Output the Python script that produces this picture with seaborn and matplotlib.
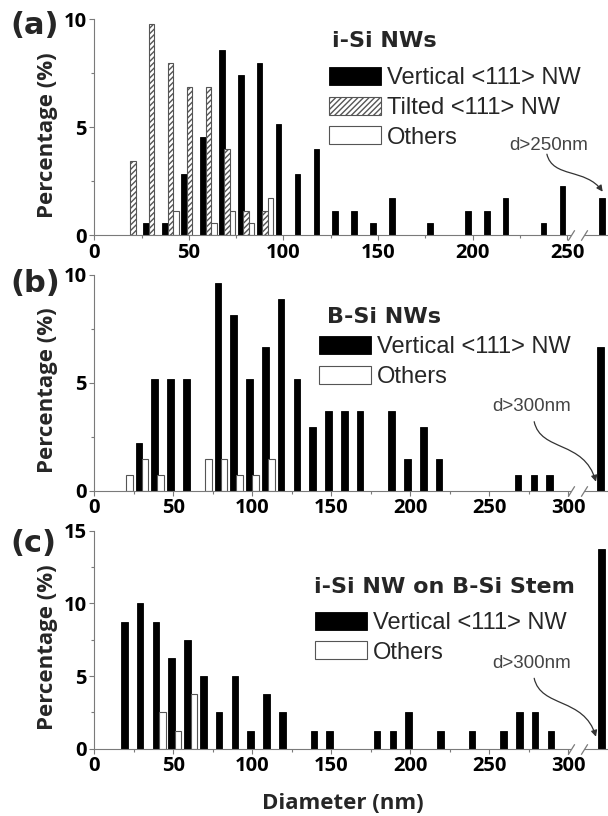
import matplotlib
matplotlib.use("Agg")
import matplotlib.pyplot as plt
from matplotlib.path import Path
from matplotlib.patches import FancyArrowPatch
from matplotlib.font_manager import FontProperties
from matplotlib.ticker import MultipleLocator
import seaborn as sns

# ---------------- data: diameter bins (nm) and percentages (%) ----------------
# (a) i-Si NWs
a_vert_d = [30, 40, 50, 60, 70, 80, 90, 100, 110, 120, 130, 140, 150, 160,
            180, 200, 210, 220, 240, 250, 271]
a_vert_pct = [0.57, 0.57, 2.86, 4.57, 8.57, 7.43, 8.00, 5.14, 2.86, 4.00, 1.14,
              1.14, 0.57, 1.71, 0.57, 1.14, 1.14, 1.71, 0.57, 2.29, 1.71]
a_tilt_d = [20, 30, 40, 50, 60, 70, 80, 90]
a_tilt_pct = [3.43, 9.80, 8.00, 6.86, 6.86, 4.00, 1.14, 1.14]
a_other_d = [40, 60, 70, 80, 90]
a_other_pct = [1.14, 0.57, 1.14, 0.57, 1.71]

# (b) B-Si NWs
b_vert_d = [30, 40, 50, 60, 80, 90, 100, 110, 120, 130, 140, 150, 160, 170,
            190, 200, 210, 220, 270, 280, 290, 322]
b_vert_pct = [2.22, 5.19, 5.19, 5.19, 9.63, 8.15, 5.19, 6.67, 8.89, 5.19, 2.96,
              3.70, 3.70, 3.70, 3.70, 1.48, 2.96, 1.48, 0.74, 0.74, 0.74, 6.67]
b_other_d = [20, 30, 40, 70, 80, 90, 100, 110]
b_other_pct = [0.74, 1.48, 0.74, 1.48, 1.48, 0.74, 0.74, 1.48]

# (c) i-Si NW on B-Si stem
c_vert_d = [20, 30, 40, 50, 60, 70, 80, 90, 100, 110, 120, 140, 150, 180,
            190, 200, 220, 240, 260, 270, 280, 290, 322]
c_vert_pct = [8.75, 10.0, 8.75, 6.25, 7.5, 5.0, 2.5, 5.0, 1.25, 3.75, 2.5, 1.25,
              1.25, 1.25, 1.25, 2.5, 1.25, 1.25, 1.25, 2.5, 2.5, 1.25, 13.75]
c_other_d = [40, 50, 60]
c_other_pct = [2.5, 1.25, 3.75]

legend_labels = ["Vertical <111> NW", "Tilted <111> NW", "Others"]
panel_titles = ["i-Si NWs", "B-Si NWs", "i-Si NW on B-Si Stem"]
panel_tags = ["(a)", "(b)", "(c)"]
overflow_notes = ["d>250nm", "d>300nm", "d>300nm"]
xticks_a = [0, 50, 100, 150, 200, 250]
xticks_bc = [0, 50, 100, 150, 200, 250, 300]
yticks_ab = [0, 5, 10]
yticks_c = [0, 5, 10, 15]

# ---------------- styling ----------------
sns.set_theme(style="ticks")
plt.rcParams["hatch.linewidth"] = 1.0
AXIS_GREY = "#7a7a7a"
EDGE_GREY = "#555555"
BOLD_FAMILY = ["Open Sans", "DejaVu Sans"]

STYLE_VERT = dict(color="black", edgecolor="black", linewidth=0.6)
STYLE_TILT = dict(color="white", edgecolor=EDGE_GREY, linewidth=0.8, hatch="//////")
STYLE_OTHER = dict(color="white", edgecolor=EDGE_GREY, linewidth=0.8)

fig = plt.figure(figsize=(6.08, 8.16), dpi=100)
W, H = 608.0, 816.0
AX_L, AX_R = 94.3, 607.0


def make_axes(top_px, bottom_px):
    return fig.add_axes([AX_L / W, 1 - bottom_px / H,
                         (AX_R - AX_L) / W, (bottom_px - top_px) / H])


def bars(ax, d, pct, offset, width, label, style):
    x = [v + offset for v in d]
    sns.barplot(x=x, y=pct, native_scale=True, orient="x", width=width / 10.0,
                errorbar=None, saturation=1, label=label, ax=ax, **style)


def style_axes(ax, xmax, xticks, yticks, ymax):
    ax.set_xlim(0, xmax)
    ax.set_ylim(0, ymax)
    for s in ("top", "right"):
        ax.spines[s].set_visible(False)
    for s in ("left", "bottom"):
        ax.spines[s].set_color(AXIS_GREY)
        ax.spines[s].set_linewidth(0.8)
    ax.set_xticks(xticks, labels=[str(t) for t in xticks], fontsize=14.5,
                  fontweight="bold", family=BOLD_FAMILY)
    ax.set_yticks(yticks, labels=[str(t) for t in yticks], fontsize=14.5,
                  fontweight="bold", family=BOLD_FAMILY)
    ax.xaxis.set_minor_locator(MultipleLocator(25))
    ax.yaxis.set_minor_locator(MultipleLocator(2.5))
    ax.tick_params(which="major", direction="out", length=3.5, width=0.8,
                   color=AXIS_GREY, labelcolor="black")
    ax.tick_params(which="minor", direction="out", length=2.5, width=0.8,
                   color=AXIS_GREY)
    ax.tick_params(axis="x", which="major", pad=2)
    ax.tick_params(axis="y", which="major", pad=2)
    ax.set_ylabel("Percentage (%)", fontsize=16, fontweight="bold",
                  family=BOLD_FAMILY)
    ax.yaxis.set_label_coords(-0.07, 0.465)
    ax.patch.set_alpha(0)


def axis_break(ax, x0, x1):
    ax.plot([x0, x1], [0, 0], color="white", lw=3, solid_capstyle="butt",
            clip_on=False, zorder=3)
    ax.plot([x0, x1], [0, 0], ls="none", marker=[(-1, -1.6), (1, 1.6)], ms=7.5,
            mec=AXIS_GREY, mew=0.9, clip_on=False, zorder=4)


def header(ax, title, tx, ty, lx, ly, labels):
    ax.text(tx, ty, title, transform=ax.transAxes, ha="left", va="baseline",
            fontsize=16, fontweight="bold", family="DejaVu Sans")
    ax.legend(handles=ax.containers, labels=labels, loc="upper left",
              bbox_to_anchor=(lx, ly), bbox_transform=ax.transAxes,
              frameon=False, borderpad=0, borderaxespad=0,
              handlelength=2.2, handleheight=0.8, handletextpad=0.25,
              labelspacing=0.32,
              prop=FontProperties(family="Liberation Sans", size=17))


def overflow_arrow(ax, note, text_xy, verts):
    ax.text(text_xy[0], text_xy[1], note, transform=ax.transAxes, ha="center",
            va="center", fontsize=13.5, family="Liberation Sans", color="#444444")
    path = Path(verts, [Path.MOVETO, Path.CURVE4, Path.CURVE4, Path.CURVE4])
    arr = FancyArrowPatch(path=path, arrowstyle="-|>", mutation_scale=9,
                          color="#333333", lw=0.9, transform=ax.transAxes,
                          clip_on=False)
    ax.add_patch(arr)


def panel_tag(tag, y_px):
    fig.text(10 / W, 1 - y_px / H, tag, ha="left", va="center", fontsize=22,
             fontweight="bold", family="DejaVu Sans")


# ---------------- (a) ----------------
ax_a = make_axes(19.3, 235.3)
bars(ax_a, a_vert_d, a_vert_pct, -2.6, 3.0, legend_labels[0], STYLE_VERT)
bars(ax_a, a_tilt_d, a_tilt_pct, 0.3, 3.0, legend_labels[1], STYLE_TILT)
bars(ax_a, a_other_d, a_other_pct, 3.1, 3.0, legend_labels[2], STYLE_OTHER)
style_axes(ax_a, 271, xticks_a, yticks_ab, 10)
axis_break(ax_a, 252, 259)
header(ax_a, panel_titles[0], 0.464, 0.872, 0.4587, 0.78, legend_labels)
overflow_arrow(ax_a, overflow_notes[0], (0.887, 0.418),
               [(0.8828, 0.3755), (0.894, 0.2639), (0.9588, 0.3116), (0.9916, 0.2019)])
panel_tag(panel_tags[0], 26)

# ---------------- (b) ----------------
ax_b = make_axes(275.0, 490.7)
bars(ax_b, b_vert_d, b_vert_pct, -1.8, 4.2, legend_labels[0], STYLE_VERT)
bars(ax_b, b_other_d, b_other_pct, 2.1, 4.2, legend_labels[2], STYLE_OTHER)
style_axes(ax_b, 324.5, xticks_bc, yticks_ab, 10)
axis_break(ax_b, 302, 310)
header(ax_b, panel_titles[1], 0.454, 0.776, 0.4378, 0.717,
       [legend_labels[0], legend_labels[2]])
overflow_arrow(ax_b, overflow_notes[1], (0.853, 0.389),
               [(0.858, 0.3199), (0.871, 0.1794), (0.955, 0.235), (0.9785, 0.0417)])
panel_tag(panel_tags[1], 283)

# ---------------- (c) ----------------
ax_c = make_axes(530.7, 748.7)
bars(ax_c, c_vert_d, c_vert_pct, -1.0, 4.2, legend_labels[0], STYLE_VERT)
bars(ax_c, c_other_d, c_other_pct, 3.0, 4.2, legend_labels[2], STYLE_OTHER)
style_axes(ax_c, 324.5, xticks_bc, yticks_c, 15)
axis_break(ax_c, 302, 310)
header(ax_c, panel_titles[2], 0.4281, 0.713, 0.4313, 0.629,
       [legend_labels[0], legend_labels[2]])
overflow_arrow(ax_c, overflow_notes[2], (0.853, 0.389),
               [(0.858, 0.3229), (0.871, 0.1867), (0.955, 0.2372), (0.9785, 0.055)])
ax_c.set_xlabel("Diameter (nm)", fontsize=16, fontweight="bold",
                family=BOLD_FAMILY, va="baseline")
ax_c.xaxis.set_label_coords(0.484, -0.278)
panel_tag(panel_tags[2], 543)

fig.savefig("out.png", dpi=100, facecolor="white")
